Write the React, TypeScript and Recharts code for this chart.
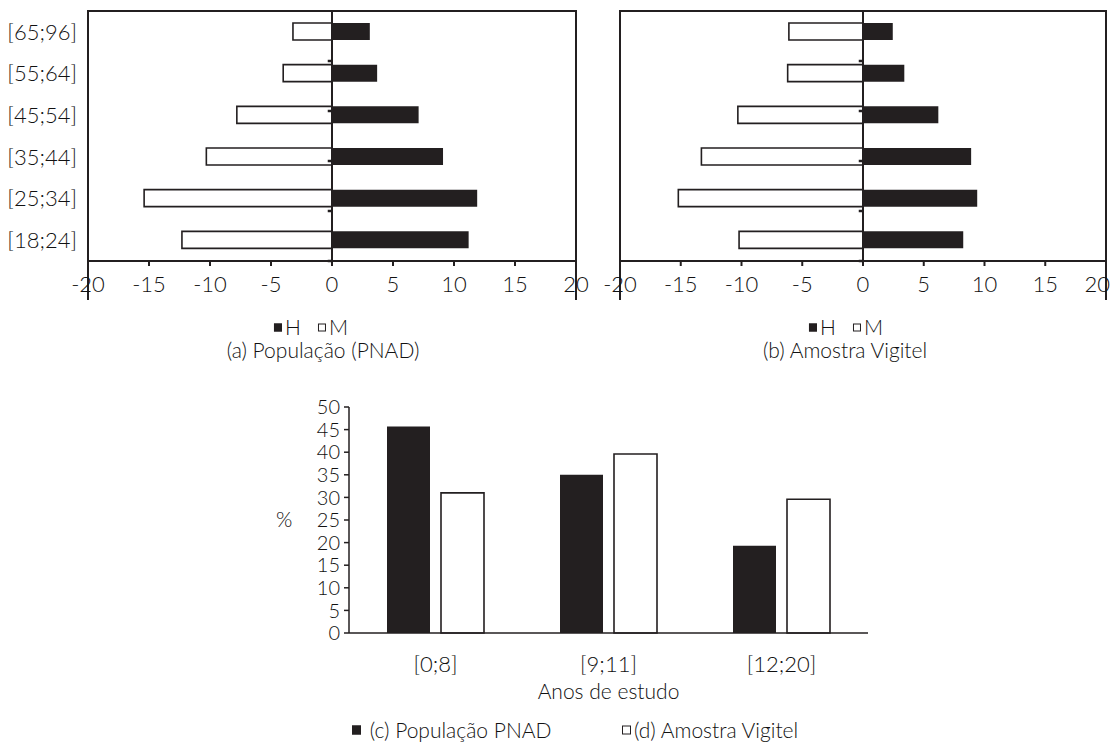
import React from "react";
import { BarChart, Bar, XAxis, YAxis, ReferenceLine, ReferenceArea } from "recharts";

// age groups, bottom to top
const ageGroups = ["[18;24]", "[25;34]", "[35;44]", "[45;54]", "[55;64]", "[65;96]"];
const pnadMen = [11.2, 11.9, 9.1, 7.1, 3.7, 3.1];
const pnadWomen = [-12.3, -15.4, -10.3, -7.8, -4.0, -3.2];
const vigitelMen = [8.25, 9.4, 8.9, 6.2, 3.4, 2.45];
const vigitelWomen = [-10.2, -15.2, -13.3, -10.3, -6.2, -6.1];
const pyramidTicks = [-20, -15, -10, -5, 0, 5, 10, 15, 20];

// years of schooling
const schooling = ["[0;8]", "[9;11]", "[12;20]"];
const schoolingPnad = [45.7, 35.0, 19.3];
const schoolingVigitel = [31.0, 39.6, 29.6];
const percentTicks = [0, 5, 10, 15, 20, 25, 30, 35, 40, 45, 50];

const INK = "#231f20";
const TEXT = "#111";
const FONT = "Lato, sans-serif";
const tickStyle = { fill: TEXT, fontSize: 22, fontFamily: FONT, fontWeight: 300 };

const boundaries = ageGroups.slice(1).map((_, i) => i + 1);

// x tick that keeps the last label inside the page on the right chart
function XTick({ x, y, payload, pullLast }) {
  const last = pullLast && payload.value === pyramidTicks[pyramidTicks.length - 1];
  return (
    <text
      x={last ? x + 4 : x}
      y={y}
      dy="0.71em"
      textAnchor={last ? "end" : "middle"}
      {...tickStyle}
    >
      {payload.value}
    </text>
  );
}

function Pyramid({ men, women, showLabels, width, marginLeft, marginRight }) {
  const data = ageGroups.map((g, i) => ({ group: g, h: men[i], m: women[i] }));
  return (
    <BarChart
      width={width}
      height={300}
      data={data}
      layout="vertical"
      stackOffset="sign"
      margin={{ top: 11, right: marginRight, bottom: 9, left: marginLeft }}
      style={{ overflow: "visible" }}
    >
      <XAxis
        type="number"
        domain={[-20, 20]}
        ticks={pyramidTicks}
        interval={0}
        height={30}
        tickSize={5}
        tickMargin={10}
        axisLine={{ stroke: INK, strokeWidth: 2 }}
        tickLine={{ stroke: INK, strokeWidth: 2 }}
        tick={<XTick pullLast={!showLabels} />}
      />
      <YAxis
        type="category"
        dataKey="group"
        reversed
        width={showLabels ? 88 : 0}
        hide={!showLabels}
        axisLine={false}
        tickLine={false}
        tickSize={0}
        tickMargin={11}
        tick={tickStyle}
      />
      <YAxis yAxisId="grid" type="number" domain={[0, ageGroups.length]} hide />
      <Bar dataKey="h" stackId="s" fill={INK} barSize={17} isAnimationActive={false} />
      <Bar
        dataKey="m"
        stackId="s"
        fill="#fff"
        stroke={INK}
        strokeWidth={1.6}
        barSize={17}
        isAnimationActive={false}
      />
      <ReferenceLine x={0} stroke={INK} strokeWidth={2} />
      {boundaries.map((b) => (
        <ReferenceLine
          key={b}
          yAxisId="grid"
          segment={[
            { x: -0.35, y: b },
            { x: 0, y: b },
          ]}
          stroke={INK}
          strokeWidth={2.5}
          ifOverflow="visible"
        />
      ))}
      <ReferenceArea
        yAxisId="grid"
        x1={-20}
        x2={20}
        y1={0}
        y2={ageGroups.length}
        fill="none"
        stroke={INK}
        strokeWidth={2}
        ifOverflow="visible"
      />
    </BarChart>
  );
}

function Swatch({ filled, size = 8 }) {
  return (
    <span
      style={{
        display: "inline-block",
        width: size,
        height: size,
        boxSizing: "border-box",
        background: filled ? INK : "#fff",
        border: `1.5px solid ${INK}`,
        marginRight: 3,
        verticalAlign: "middle",
        position: "relative",
        top: -2,
      }}
    />
  );
}

const textCss = {
  fontFamily: FONT,
  fontSize: 21,
  fontWeight: 300,
  color: TEXT,
  whiteSpace: "nowrap",
  lineHeight: 1,
};

function Label({ x, y, children }) {
  return (
    <div
      style={{
        position: "absolute",
        left: x,
        top: y,
        transform: "translate(-50%, -50%)",
        ...textCss,
      }}
    >
      {children}
    </div>
  );
}

export default function App() {
  const schoolData = schooling.map((s, i) => ({
    cat: s,
    pnad: schoolingPnad[i],
    vigitel: schoolingVigitel[i],
  }));
  const axisLabelStyle = { fill: TEXT, fontSize: 21, fontFamily: FONT, fontWeight: 300 };

  return (
    <div
      style={{
        position: "absolute",
        left: 0,
        top: 0,
        width: 1113,
        height: 743,
        background: "#fff",
        fontFamily: FONT,
        overflow: "hidden",
      }}
    >
      <div style={{ position: "absolute", left: 0, top: 0 }}>
        <Pyramid men={pnadMen} women={pnadWomen} showLabels width={590} marginLeft={0} marginRight={14} />
      </div>
      <div style={{ position: "absolute", left: 600, top: 0 }}>
        <Pyramid men={vigitelMen} women={vigitelWomen} showLabels={false} width={513} marginLeft={20} marginRight={7} />
      </div>

      <Label x={311} y={326}>
        <Swatch filled />H&nbsp;&nbsp;&nbsp;<Swatch />M
      </Label>
      <Label x={323} y={349}>(a) População (PNAD)</Label>
      <Label x={846} y={326}>
        <Swatch filled />H&nbsp;&nbsp;&nbsp;<Swatch />M
      </Label>
      <Label x={845} y={349}>(b) Amostra Vigitel</Label>

      <div style={{ position: "absolute", left: 240, top: 380 }}>
        <BarChart
          width={650}
          height={345}
          data={schoolData}
          barSize={43}
          barGap={11}
          margin={{ top: 27, right: 22, bottom: 22, left: 0 }}
          style={{ overflow: "visible" }}
        >
          <XAxis
            dataKey="cat"
            height={70}
            axisLine={{ stroke: INK, strokeWidth: 1.5 }}
            tickLine={false}
            tickSize={0}
            tickMargin={23}
            tick={tickStyle}
            label={{
              value: "Anos de estudo",
              position: "insideBottom",
              offset: 4,
              style: axisLabelStyle,
            }}
          />
          <YAxis
            domain={[0, 50]}
            ticks={percentTicks}
            interval={0}
            width={109}
            tickSize={5}
            tickMargin={4}
            axisLine={{ stroke: INK, strokeWidth: 1.5 }}
            tickLine={{ stroke: INK, strokeWidth: 1.5 }}
            tick={{ ...tickStyle, fontSize: 20 }}
            label={{
              value: "%",
              position: "insideLeft",
              offset: 36,
              style: axisLabelStyle,
            }}
          />
          <Bar dataKey="pnad" fill={INK} isAnimationActive={false} />
          <Bar dataKey="vigitel" fill="#fff" stroke={INK} strokeWidth={1.6} isAnimationActive={false} />
        </BarChart>
      </div>

      <div style={{ position: "absolute", left: 352, top: 729, transform: "translateY(-50%)", ...textCss }}>
        <Swatch filled size={9} /> (c) População PNAD
      </div>
      <div style={{ position: "absolute", left: 622, top: 729, transform: "translateY(-50%)", ...textCss }}>
        <Swatch size={9} />(d) Amostra Vigitel
      </div>
    </div>
  );
}
